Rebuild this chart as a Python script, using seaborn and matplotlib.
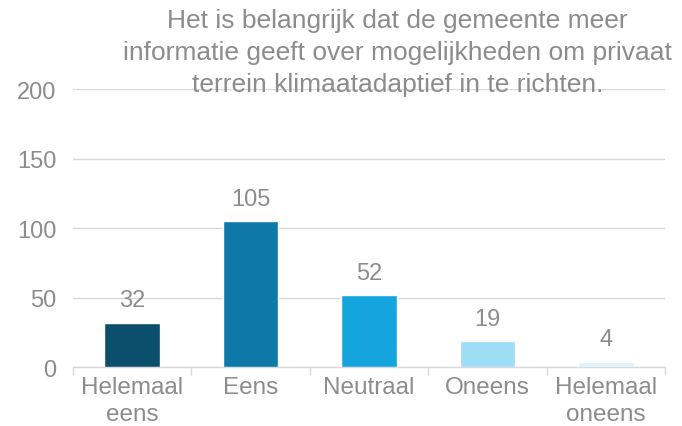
import matplotlib
matplotlib.use("Agg")
import matplotlib.pyplot as plt
import seaborn as sns
import pandas as pd

# data
categories = ["Helemaal\neens", "Eens", "Neutraal", "Oneens", "Helemaal\noneens"]
counts = [32, 105, 52, 19, 4]
bar_colors = ["#0B4F6C", "#0E78A8", "#14A5DE", "#9DDDF5", "#DDF3FC"]
title = ("Het is belangrijk dat de gemeente meer\n"
         "informatie geeft over mogelijkheden om privaat\n"
         "terrein klimaatadaptief in te richten.")

sns.set_theme(style="white")
plt.rcParams['font.family'] = ['Liberation Sans', 'DejaVu Sans']
grey = "#8C8C8C"

df = pd.DataFrame({"cat": categories, "n": counts})

fig = plt.figure(figsize=(6.82, 4.27), dpi=100)
ax = fig.add_axes([0.107, 0.138, 0.868, 0.651])

sns.barplot(data=df, x="cat", y="n", hue="cat", palette=bar_colors,
            legend=False, width=0.47, ax=ax, saturation=1, zorder=3)

for p, v in zip(ax.patches, counts):
    ax.annotate(str(v), (p.get_x() + p.get_width() / 2, p.get_height()),
                xytext=(0, 8), textcoords="offset points",
                ha="center", va="bottom", fontsize=17, color=grey)

ax.set_ylim(0, 200)
ax.set_xlim(-0.5, 4.5)
ax.set_yticks([0, 50, 100, 150, 200])
ax.yaxis.grid(True, color="#D9D9D9", linewidth=1)
ax.set_axisbelow(True)
for s in ["top", "right", "left"]:
    ax.spines[s].set_visible(False)
ax.spines["bottom"].set_color("#D9D9D9")
ax.spines["bottom"].set_linewidth(1)
ax.set_xlabel("")
ax.set_ylabel("")

# tick marks at category boundaries
ax.set_xticks([-0.5, 0.5, 1.5, 2.5, 3.5, 4.5], minor=True)
ax.tick_params(axis="x", which="minor", length=6, color="#D9D9D9", width=1, bottom=True)
ax.tick_params(axis="x", which="major", length=0, labelsize=17.5, labelcolor=grey, pad=6.5)
ax.tick_params(axis="y", length=0, labelsize=17, labelcolor=grey, pad=12)
for lbl in ax.get_xticklabels():
    lbl.set_linespacing(1.3)

fig.text(0.583, 0.98, title, ha="center", va="top", fontsize=19,
         color=grey, linespacing=1.44, zorder=5)

fig.savefig("out.png", dpi=100)
